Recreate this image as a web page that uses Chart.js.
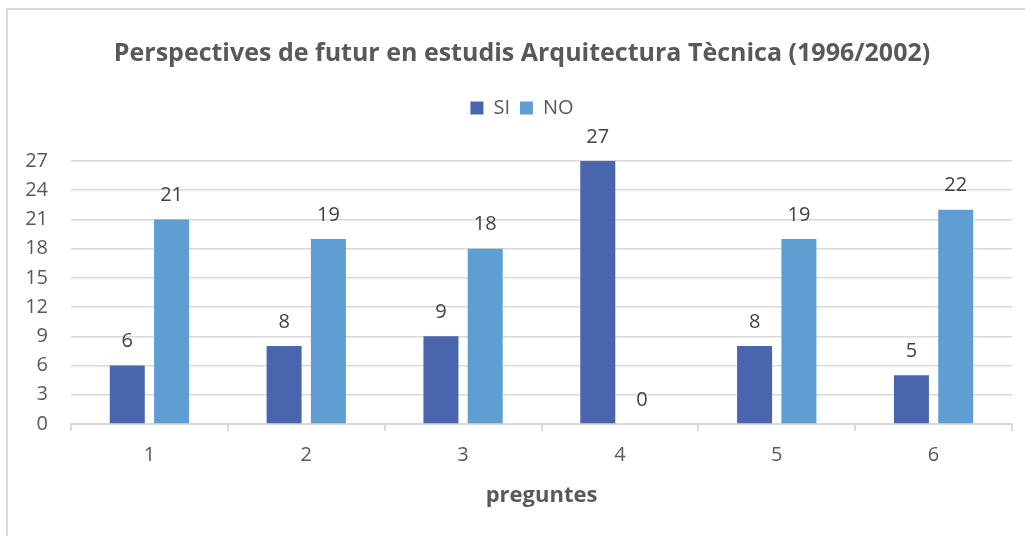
<!DOCTYPE html>
<html>
<head>
<meta charset="utf-8">
<script src="https://cdn.jsdelivr.net/npm/chart.js@4/dist/chart.umd.min.js"></script>
<style>
  html, body { margin: 0; padding: 0; background: #fff; }
  #wrap { position: relative; width: 1025px; height: 536px; overflow: hidden; }
  #frame { position: absolute; left: 6px; top: 8px; width: 1100px; height: 600px;
           border-top: 2px solid #d9d9d9; border-left: 2px solid #d9d9d9; }
  canvas { position: absolute; left: 0; top: 0; }
</style>
</head>
<body>
<div id="wrap">
  <div id="frame"></div>
  <canvas id="chart" width="1025" height="536"></canvas>
</div>
<script>
const categories = ['1', '2', '3', '4', '5', '6'];
const siValues = [6, 8, 9, 27, 8, 5];
const noValues = [21, 19, 18, 0, 19, 22];
const yTicks = [0, 3, 6, 9, 12, 15, 18, 21, 24, 27];

const textColor = '#595959';
const font = 'Open Sans';

// extra room between the legend and the plot
const legendGap = {
  id: 'legendGap',
  beforeInit(chart) {
    const fit = chart.legend.fit;
    chart.legend.fit = function () {
      fit.call(this);
      this.height += 33;
    };
  }
};

// value above every bar
const barLabels = {
  id: 'barLabels',
  afterDatasetsDraw(chart) {
    const ctx = chart.ctx;
    ctx.save();
    ctx.font = '20px "' + font + '"';
    ctx.fillStyle = '#404040';
    ctx.textAlign = 'center';
    ctx.textBaseline = 'middle';
    chart.data.datasets.forEach((ds, i) => {
      chart.getDatasetMeta(i).data.forEach((bar, j) => {
        ctx.fillText(String(ds.data[j]), bar.x, bar.y - 24);
      });
    });
    ctx.restore();
  }
};

new Chart(document.getElementById('chart'), {
  type: 'bar',
  data: {
    labels: categories,
    datasets: [
      { label: 'SI', data: siValues, backgroundColor: '#4865ae' },
      { label: 'NO', data: noValues, backgroundColor: '#5f9ed3' }
    ]
  },
  options: {
    responsive: false,
    animation: false,
    // left padding pushes title/legend centre to the right, like the original
    layout: { padding: { left: 32, right: 13, top: 0, bottom: 0 } },
    datasets: {
      bar: { categoryPercentage: 0.565, barPercentage: 0.79 }
    },
    plugins: {
      title: {
        display: true,
        text: 'Perspectives de futur en estudis Arquitectura Tècnica (1996/2002)',
        color: textColor,
        font: { family: font, size: 25, weight: 'bold' },
        padding: { top: 39, bottom: 19 }
      },
      legend: {
        display: true,
        position: 'top',
        labels: {
          color: textColor,
          font: { family: font, size: 20 },
          boxWidth: 13,
          boxHeight: 13,
          padding: 10
        }
      },
      tooltip: { enabled: false }
    },
    scales: {
      x: {
        grid: {
          display: true,
          drawOnChartArea: false,
          drawTicks: true,
          tickLength: 7,
          color: '#d9d9d9',
          lineWidth: 2
        },
        border: { display: true, color: '#d9d9d9', width: 2 },
        ticks: {
          color: textColor,
          font: { family: font, size: 20 },
          padding: 12
        },
        title: {
          display: true,
          text: 'preguntes',
          color: textColor,
          font: { family: font, size: 22, weight: 'bold' },
          padding: { top: 0, bottom: 27 }
        },
        afterFit(scale) { scale.height = 112; }
      },
      y: {
        min: 0,
        max: 27,
        afterBuildTicks(scale) { scale.ticks = yTicks.map(v => ({ value: v })); },
        grid: { color: '#d9d9d9', lineWidth: 1.5, drawTicks: false },
        border: { display: false },
        ticks: {
          color: textColor,
          font: { family: font, size: 20 },
          padding: 23
        },
        afterFit(scale) {
          scale.width = 39;
          scale._computeLabelArea = () => undefined; // don't clip labels to the narrow box
        }
      }
    }
  },
  plugins: [legendGap, barLabels]
});
</script>
</body>
</html>
